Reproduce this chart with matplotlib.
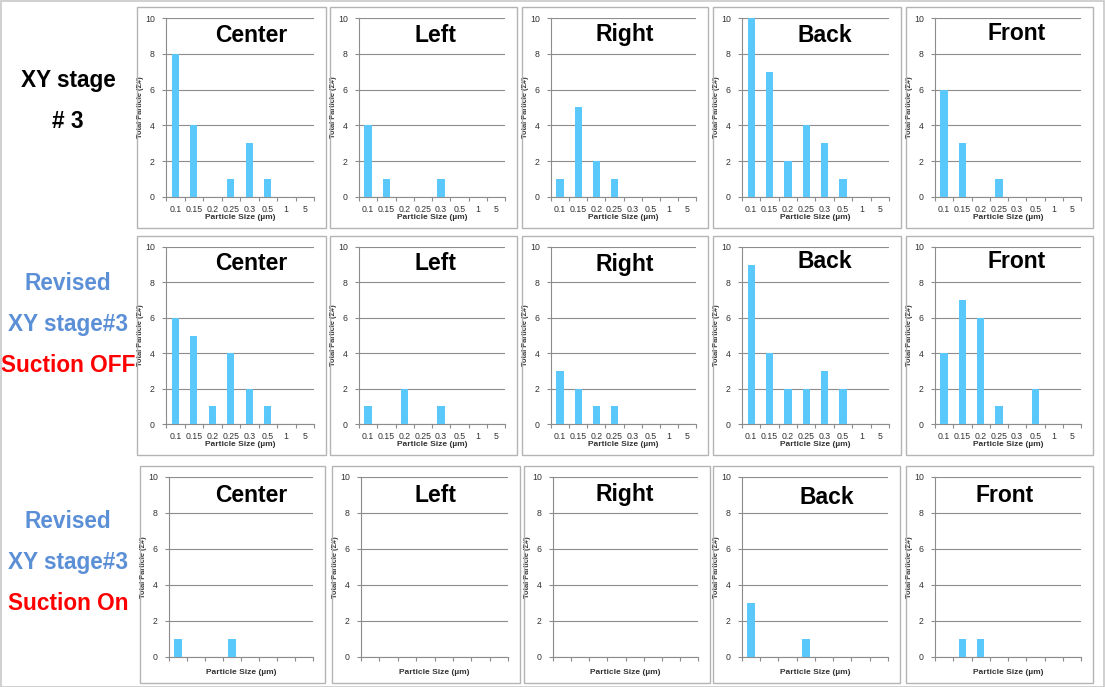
import matplotlib
matplotlib.use("Agg")
import matplotlib.pyplot as plt
from matplotlib.patches import Rectangle
import numpy as np

plt.rcParams['font.family'] = ['Liberation Sans', 'DejaVu Sans']

sizes = ["0.1", "0.15", "0.2", "0.25", "0.3", "0.5", "1", "5"]
positions = ["Center", "Left", "Right", "Back", "Front"]

# Row 1: XY stage #3
row1_center = [8, 4, 0, 1, 3, 1, 0, 0]
row1_left = [4, 1, 0, 0, 1, 0, 0, 0]
row1_right = [1, 5, 2, 1, 0, 0, 0, 0]
row1_back = [10, 7, 2, 4, 3, 1, 0, 0]
row1_front = [6, 3, 0, 1, 0, 0, 0, 0]
# Row 2: Revised XY stage#3, Suction OFF
row2_center = [6, 5, 1, 4, 2, 1, 0, 0]
row2_left = [1, 0, 2, 0, 1, 0, 0, 0]
row2_right = [3, 2, 1, 1, 0, 0, 0, 0]
row2_back = [9, 4, 2, 2, 3, 2, 0, 0]
row2_front = [4, 7, 6, 1, 0, 2, 0, 0]
# Row 3: Revised XY stage#3, Suction On
row3_center = [1, 0, 0, 1, 0, 0, 0, 0]
row3_left = [0, 0, 0, 0, 0, 0, 0, 0]
row3_right = [0, 0, 0, 0, 0, 0, 0, 0]
row3_back = [3, 0, 0, 1, 0, 0, 0, 0]
row3_front = [0, 1, 1, 0, 0, 0, 0, 0]

rows = [
    [row1_center, row1_left, row1_right, row1_back, row1_front],
    [row2_center, row2_left, row2_right, row2_back, row2_front],
    [row3_center, row3_left, row3_right, row3_back, row3_front],
]

W, H = 1105, 687
fig = plt.figure(figsize=(W / 100, H / 100), dpi=100)
fig.patch.set_facecolor('white')

# outer frame
fig.add_artist(Rectangle((0.5 / W, 0.5 / H), 1 - 1.5 / W, 1 - 1.5 / H, transform=fig.transFigure,
                         fill=False, edgecolor='#c8c8c8', lw=1.2))

def px_box(x0, y0, x1, y1):
    return [x0 / W, 1 - y1 / H, (x1 - x0) / W, (y1 - y0) / H]

box_x = [
    [(137, 326), (330, 517), (522, 708), (713, 901), (906, 1093)],
    [(137, 326), (330, 517), (522, 708), (713, 901), (906, 1093)],
    [(140, 325), (332, 520), (524, 710), (713, 900), (906, 1093)],
]
box_y = [(7, 228), (236, 455), (466, 683)]
title_xy = [
    [(251, 35), (435, 35), (625, 35), (825, 35), (1017, 34)],
    [(251, 263), (435, 264), (625, 264), (825, 262), (1017, 261)],
    [(251, 495), (435, 495), (625, 495), (827, 497), (1005, 496)],
]

bar_color = '#5AC8FA'
grid_color = '#8c8c8c'

for r in range(3):
    y0, y1 = box_y[r]
    bottom_off = 31 if r < 2 else 26
    for c in range(5):
        x0, x1 = box_x[r][c]
        fig.add_artist(Rectangle((x0 / W, 1 - y1 / H), (x1 - x0) / W, (y1 - y0) / H,
                                 transform=fig.transFigure, fill=False,
                                 edgecolor='#b4b4b4', lw=1.0))
        ax = fig.add_axes(px_box(x0 + 29, y0 + 11, x1 - 12, y1 - bottom_off))
        vals = rows[r][c]
        xs = np.arange(len(sizes))
        ax.bar(xs, vals, width=0.4, color=bar_color, zorder=3)
        ax.set_xlim(-0.5, len(sizes) - 0.5)
        ax.set_ylim(0, 10)
        ax.set_yticks([0, 2, 4, 6, 8, 10])
        ax.yaxis.grid(True, color=grid_color, lw=0.8, zorder=0)
        ax.set_xticks(np.arange(len(sizes) + 1) - 0.5, minor=False)
        ax.set_xticklabels([])
        if r < 2:
            ax.set_xticks(xs, minor=True)
            ax.set_xticklabels(sizes, minor=True)
        ax.tick_params(axis='x', which='major', length=3, color=grid_color)
        ax.tick_params(axis='x', which='minor', length=0, labelsize=6.3, colors='#333333', pad=6)
        ax.tick_params(axis='y', length=3, color=grid_color, labelsize=6.3, labelcolor='#333333', pad=5)
        for s in ['top', 'right']:
            ax.spines[s].set_visible(False)
        for s in ['left', 'bottom']:
            ax.spines[s].set_color(grid_color)
            ax.spines[s].set_linewidth(0.8)
        ax.set_ylabel("Total Particle (Σ#)", fontsize=5.3, fontweight='bold', color='#333333', labelpad=0.5)
        ax.set_xlabel("Particle Size (µm)", fontsize=6, fontweight='bold', color='#333333',
                      labelpad=0 if r < 2 else 2.5)
        tx, ty = title_xy[r][c]
        fig.text(tx / W, 1 - ty / H, positions[c], fontsize=16.5, fontweight='bold',
                 ha='center', va='center', color='black')

blue = '#5B8FD6'
red = '#FF0000'
labels = [
    ("XY stage", 81, 'black'), ("# 3", 121, 'black'),
    ("Revised", 284, blue), ("XY stage#3", 325, blue), ("Suction OFF", 366, red),
    ("Revised", 522, blue), ("XY stage#3", 563, blue), ("Suction On", 604, red),
]
for txt, y, col in labels:
    fig.text(68 / W, 1 - y / H, txt, fontsize=16.3, fontweight='bold', ha='center', va='center', color=col)

fig.savefig("out.png", dpi=100)
